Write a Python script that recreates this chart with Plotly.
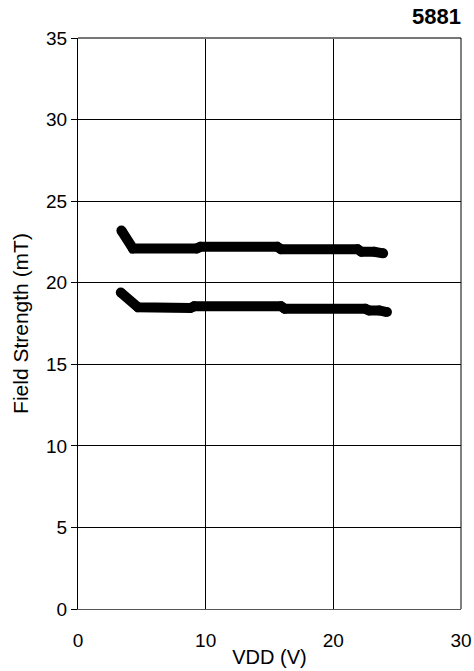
import plotly.graph_objects as go

vdd_upper = [3.4, 4.3, 9.3, 9.6, 15.6, 15.9, 21.9, 22.2, 23.2, 23.9]
field_upper = [23.2, 22.1, 22.1, 22.2, 22.2, 22.05, 22.05, 21.9, 21.9, 21.8]

vdd_lower = [3.35, 4.7, 8.8, 9.1, 15.9, 16.2, 22.5, 22.8, 23.6, 24.2]
field_lower = [19.4, 18.5, 18.45, 18.55, 18.55, 18.4, 18.4, 18.3, 18.3, 18.2]

title_text = "5881"
x_title = "VDD (V)"
y_title = "Field Strength (mT)"

fig = go.Figure()
for xs, ys in [(vdd_upper, field_upper), (vdd_lower, field_lower)]:
    fig.add_trace(go.Scatter(x=xs, y=ys, mode="lines+markers",
                             line=dict(color="black", width=10),
                             marker=dict(color="black", size=10, line=dict(width=0)),
                             showlegend=False))

fam = "Liberation Sans, Arial, sans-serif"
font = dict(family=fam, size=19, color="black")

fig.update_layout(
    width=474, height=671,
    margin=dict(l=78, r=13, t=38, b=62, autoexpand=False),
    paper_bgcolor="white", plot_bgcolor="white",
    font=font,
    annotations=[dict(text="<b>" + title_text + "</b>", x=(463 - 78) / 383, xanchor="right",
                      xref="paper", y=1 + 21.5 / 571, yanchor="middle", yref="paper",
                      showarrow=False, font=dict(family=fam, size=22, color="black"))],
)

fig.update_xaxes(range=[0, 30], tickvals=[0, 10, 20, 30], showgrid=True,
                 gridcolor="black", gridwidth=1, zeroline=False,
                 showline=True, linecolor="#555", linewidth=1,
                 ticks="", ticklabelstandoff=14, automargin=False,
                 title=dict(text=x_title, standoff=0, font=dict(family=fam, size=20, color="black")),
                 tickfont=font)
fig.update_yaxes(range=[0, 35], tickvals=[0, 5, 10, 15, 20, 25, 30, 35],
                 showgrid=True, gridcolor="black", gridwidth=1, zeroline=False,
                 showline=True, linecolor="black", linewidth=1,
                 ticks="outside", ticklen=6, tickcolor="black", automargin=False,
                 title=dict(text=y_title, standoff=11, font=dict(family=fam, size=21, color="black")),
                 tickfont=font)

# top (gray) and right (dark) borders
fig.add_shape(type="line", xref="paper", yref="paper", x0=0, x1=1, y0=1, y1=1,
              line=dict(color="#777", width=2))
fig.add_shape(type="line", xref="paper", yref="paper", x0=1, x1=1, y0=0, y1=1,
              line=dict(color="black", width=1))

fig.write_html("out.html", config={"displayModeBar": False},
               post_script="document.body.style.margin='0';document.body.style.overflow='hidden';")
